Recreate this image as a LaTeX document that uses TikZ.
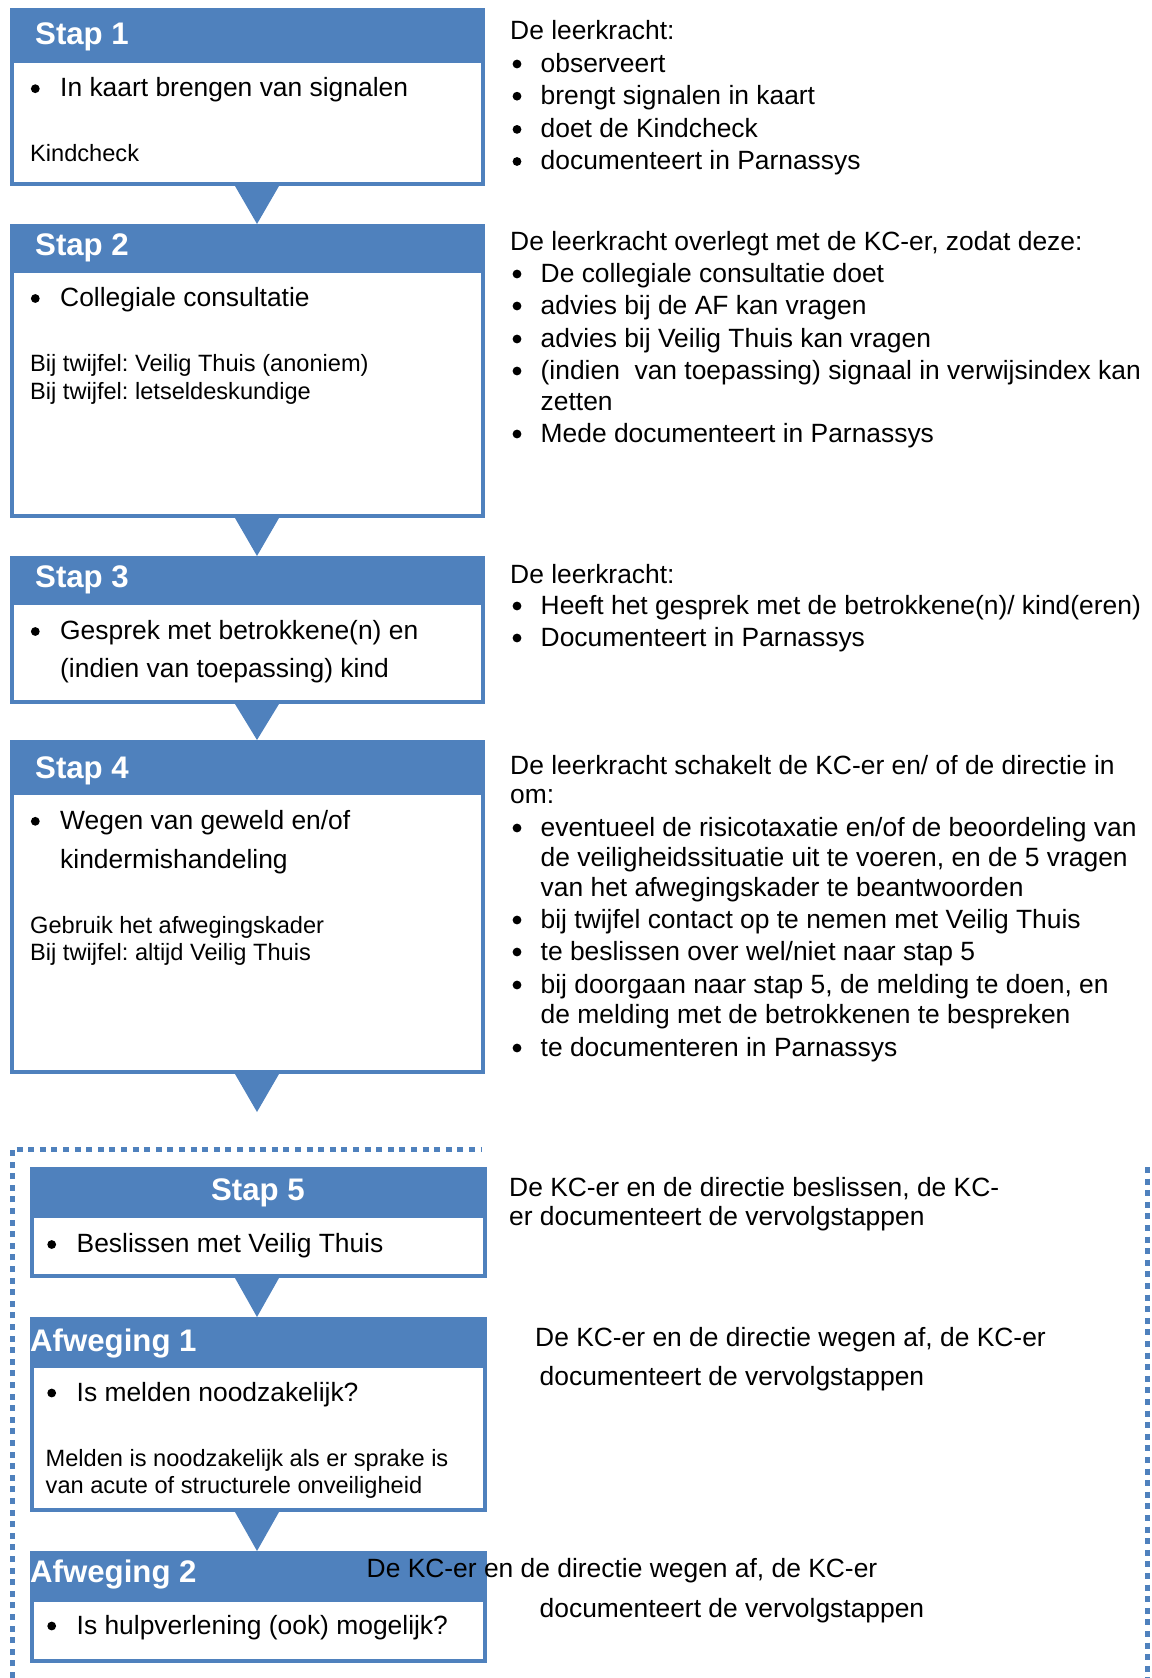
\documentclass[tikz,border=0pt]{standalone}
\usepackage{fontspec}
\setmainfont{Liberation Sans}
\usetikzlibrary{calc}
\definecolor{kcblauw}{RGB}{79,129,189}
\frenchspacing

\begin{document}
\begin{tikzpicture}[x = 1pt, y = -1pt,
	kader/.style = {draw = kcblauw, line width = 4pt, fill = white, anchor = north west, inner sep = 0pt, outer sep = 0pt},
	kop/.style = {fill = kcblauw, anchor = north west, inner sep = 0pt, outer sep = 0pt},
	koptekst/.style = {anchor = base west, inner sep = 0pt, text = white, font = \bfseries\fontsize{31.2}{37}\selectfont},
	tekst/.style = {anchor = base west, inner sep = 0pt, font = \fontsize{26.4}{31}\selectfont},
	klein/.style = {anchor = base west, inner sep = 0pt, font = \fontsize{23.6}{28}\selectfont},
	punt/.style = {circle, fill = black, inner sep = 0pt, minimum size = 8.8pt},
	pijl/.style = {fill = kcblauw},
	stippel/.style = {draw = kcblauw, line width = 5pt, dash pattern = on 6pt off 5.6pt}]

	\useasboundingbox (0, 0) rectangle (1151, 1678);

	% stippelkader om stap 5 en de afwegingen
	\draw [stippel] (12, 1678) -- (12, 1149) -- (482, 1149);
	\draw [stippel] (1147, 1167) -- (1147, 1678);

	% kaders met kop
	\foreach \n/\l/\r/\t/\k/\b in {s1/10/485/8/63/186, s2/10/485/224/273/518, s3/10/485/556/605/704, s4/10/485/740/795/1074, s5/30/487/1167/1218/1278, a1/30/487/1317/1368/1512, a2/30/487/1551/1602/1663}
	{
		\node [kader, minimum width = \r - \l - 4, minimum height = \b - \t - 4] (\n) at (\l + 2, \t + 2) {};
		\node [kop, minimum width = \r - \l, minimum height = \k - \t] (\n-k) at (\l, \t) {};
	}

	% pijlen
	\coordinate (m) at (257, 0);
	\coordinate (p4) at (257, 1112);
	\foreach \a/\b in {s1/s2, s2/s3, s3/s4, s5/a1, a1/a2}
		\fill [pijl] ($(\a.south -| m) + (-22, 2)$) -- ($(\a.south -| m) + (22, 2)$) -- (\b-k.north -| m) -- cycle;
	\fill [pijl] ($(s4.south -| m) + (-22, 2)$) -- ($(s4.south -| m) + (22, 2)$) -- (p4) -- cycle;

	% koppen
	\node [koptekst] (s1-t) at (35, 45) {Stap 1};
	\node [koptekst] (s2-t) at (35, 255.5) {Stap 2};
	\node [koptekst] (s3-t) at (35, 587) {Stap 3};
	\node [koptekst] (s4-t) at (35, 778) {Stap 4};
	\node [koptekst, anchor = base] (s5-t) at (258, 1200.5) {Stap 5};
	\node [koptekst] (a1-t) at (30, 1351.5) {Afweging 1};
	\node [koptekst] (a2-t) at (30, 1582) {Afweging 2};

	% tekst in de kaders
	\node [punt] (s1-p) at (35.3, 88.7) {};
	\node [tekst] (s1-a) at (60, 96.7) {In kaart brengen van signalen};
	\node [klein] (s1-b) at (30, 161.5) {Kindcheck};

	\node [punt] (s2-p) at (35.3, 298.5) {};
	\node [tekst] (s2-a) at (60, 306.5) {Collegiale consultatie};
	\node [klein] (s2-b) at (30, 371.7) {Bij twijfel: Veilig Thuis (anoniem)};
	\node [klein] (s2-c) at (30, 399.4) {Bij twijfel: letseldeskundige};

	\node [punt] (s3-p) at (35.3, 631.5) {};
	\node [tekst] (s3-a) at (60, 639.5) {Gesprek met betrokkene(n) en};
	\node [tekst] (s3-b) at (60, 677) {(indien van toepassing) kind};

	\node [punt] (s4-p) at (35.3, 821.3) {};
	\node [tekst] (s4-a) at (60, 829.3) {Wegen van geweld en/of};
	\node [tekst] (s4-b) at (60, 868.5) {kindermishandeling};
	\node [klein] (s4-c) at (30, 933.3) {Gebruik het afwegingskader};
	\node [klein] (s4-d) at (30, 960) {Bij twijfel: altijd Veilig Thuis};

	\node [punt] (s5-p) at (51.7, 1244.5) {};
	\node [tekst] (s5-a) at (76.5, 1252.5) {Beslissen met Veilig Thuis};

	\node [punt] (a1-p) at (51.7, 1393) {};
	\node [tekst] (a1-a) at (76.5, 1401) {Is melden noodzakelijk?};
	\node [klein] (a1-b) at (45.5, 1466) {Melden is noodzakelijk als er sprake is};
	\node [klein] (a1-c) at (45.5, 1493) {van acute of structurele onveiligheid};

	\node [punt] (a2-p) at (51.7, 1626) {};
	\node [tekst] (a2-a) at (76.5, 1634) {Is hulpverlening (ook) mogelijk?};

	% rechterkolom
	\node [tekst] (r1) at (510, 40) {De leerkracht:};
	\node [punt] (r1-p1) at (517, 64) {};
	\node [tekst] (r1-a) at (540.5, 72) {observeert};
	\node [punt] (r1-p2) at (517, 96.2) {};
	\node [tekst] (r1-b) at (540.5, 104.2) {brengt signalen in kaart};
	\node [punt] (r1-p3) at (517, 129.4) {};
	\node [tekst] (r1-c) at (540.5, 137.4) {doet de Kindcheck};
	\node [punt] (r1-p4) at (517, 161.5) {};
	\node [tekst] (r1-d) at (540.5, 169.5) {documenteert in Parnassys};

	\node [tekst] (r2) at (510, 250) {De leerkracht overlegt met de KC-er, zodat deze:};
	\node [punt] (r2-p1) at (517, 274) {};
	\node [tekst] (r2-a) at (540.5, 282) {De collegiale consultatie doet};
	\node [punt] (r2-p2) at (517, 306) {};
	\node [tekst] (r2-b) at (540.5, 314) {advies bij de AF kan vragen};
	\node [punt] (r2-p3) at (517, 339) {};
	\node [tekst] (r2-c) at (540.5, 347) {advies bij Veilig Thuis kan vragen};
	\node [punt] (r2-p4) at (517, 371) {};
	\node [tekst] (r2-d) at (540.5, 379) {(indien\ \ van toepassing) signaal in verwijsindex kan};
	\node [tekst] (r2-e) at (540.5, 410) {zetten};
	\node [punt] (r2-p5) at (517, 434) {};
	\node [tekst] (r2-f) at (540.5, 442) {Mede documenteert in Parnassys};

	\node [tekst] (r3) at (510, 583) {De leerkracht:};
	\node [punt] (r3-p1) at (517, 606) {};
	\node [tekst] (r3-a) at (540.5, 614) {Heeft het gesprek met de betrokkene(n)/ kind(eren)};
	\node [punt] (r3-p2) at (517, 638) {};
	\node [tekst] (r3-b) at (540.5, 646) {Documenteert in Parnassys};

	\node [tekst] (r4) at (510, 774) {De leerkracht schakelt de KC-er en/ of de directie in};
	\node [tekst] (r4-om) at (510, 803.5) {om:};
	\node [punt] (r4-p1) at (517, 828) {};
	\node [tekst] (r4-a) at (540.5, 836) {eventueel de risicotaxatie en/of de beoordeling van};
	\node [tekst] (r4-b) at (540.5, 866) {de veiligheidssituatie uit te voeren, en de 5 vragen};
	\node [tekst] (r4-c) at (540.5, 896) {van het afwegingskader te beantwoorden};
	\node [punt] (r4-p2) at (517, 920) {};
	\node [tekst] (r4-d) at (540.5, 928) {bij twijfel contact op te nemen met Veilig Thuis};
	\node [punt] (r4-p3) at (517, 952) {};
	\node [tekst] (r4-e) at (540.5, 960) {te beslissen over wel/niet naar stap 5};
	\node [punt] (r4-p4) at (517, 985) {};
	\node [tekst] (r4-f) at (540.5, 993) {bij doorgaan naar stap 5, de melding te doen, en};
	\node [tekst] (r4-g) at (540.5, 1023) {de melding met de betrokkenen te bespreken};
	\node [punt] (r4-p5) at (517, 1048) {};
	\node [tekst] (r4-h) at (540.5, 1056) {te documenteren in Parnassys};

	\node [tekst] (r5-a) at (509, 1196.5) {De KC-er en de directie beslissen, de KC-};
	\node [tekst] (r5-b) at (509, 1225) {er documenteert de vervolgstappen};

	\node [tekst] (r6-a) at (535, 1346.5) {De KC-er en de directie wegen af, de KC-er};
	\node [tekst] (r6-b) at (539.5, 1385) {documenteert de vervolgstappen};

	\node [tekst] (r7-a) at (366.5, 1577.5) {De KC-er en de directie wegen af, de KC-er};
	\node [tekst] (r7-b) at (539.5, 1617) {documenteert de vervolgstappen};

\end{tikzpicture}
\end{document}
